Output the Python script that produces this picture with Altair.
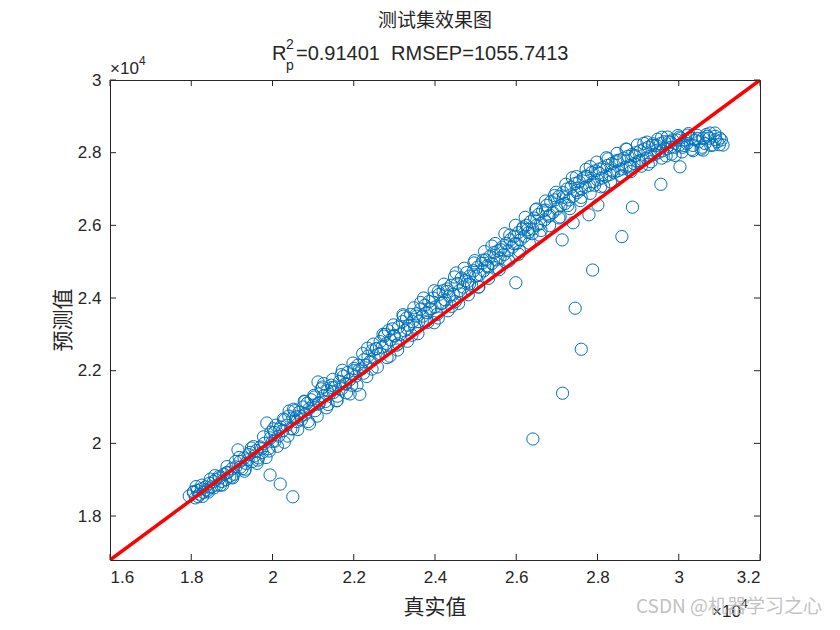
import altair as alt
import pandas as pd

# ---- data (true value, predicted value) ----
# main band, first pass
true_vals = [
    17950, 18050, 18100, 18150, 18200, 18250, 18300, 18350, 18400, 18450, 18500, 18550,
    18600, 18650, 18700, 18750, 18800, 18850, 18900, 18950, 19000, 19050, 19100, 19150,
    19200, 19250, 19300, 19350, 19400, 19450, 19500, 19550, 19600,
    19650, 19700, 19750, 19800, 19860, 19900, 19950, 20000, 20050, 20085, 20150, 20200,
    20250, 20300, 20350, 20400, 20450, 20500, 20550,
    20600, 20650, 20700, 20750, 20800, 20850, 20900, 20950, 21000, 21050, 21120, 21150,
    21200, 21250, 21300, 21350, 21400, 21450, 21500,
    21550, 21600, 21650, 21700, 21750, 21800, 21850, 21900, 21950, 22000, 22050, 22100,
    22150, 22200, 22250, 22300, 22350, 22400, 22450, 22500,
    22550, 22600, 22650, 22700, 22750, 22800, 22850, 22900, 22950, 23000, 23050, 23100,
    23150, 23200, 23250, 23300, 23350, 23400, 23450, 23500,
    23550, 23600, 23650, 23700, 23750, 23800, 23850, 23900, 23950, 24000, 24050, 24100,
    24150, 24200, 24250, 24300, 24350, 24400, 24450, 24500,
    24550, 24600, 24650, 24700, 24780, 24800, 24850, 24900, 24950, 25000, 25050, 25100,
    25150, 25200, 25250, 25300, 25350, 25400, 25450, 25500,
    25550, 25600, 25650, 25700, 25750, 25800, 25850, 25900, 25950, 25990, 26000, 26050,
    26100, 26150, 26200, 26250, 26300, 26350, 26400, 26450, 26500,
    26550, 26600, 26650, 26700, 26750, 26800, 26850, 26900, 26950, 27000, 27050, 27130,
    27100, 27150, 27200, 27250, 27300, 27350, 27400, 27400, 27450, 27500,
    27550, 27600, 27650, 27700, 27790, 27750, 27800, 27850, 27900, 27950, 28010, 28000,
    28050, 28100, 28150, 28200, 28250, 28300, 28350, 28400, 28450, 28500,
    28550, 28600, 28650, 28700, 28750, 28800, 28850, 28900, 28950, 29000, 29050, 29100,
    29150, 29200, 29250, 29300, 29350, 29400, 29450, 29500,
    29550, 29600, 29650, 29700, 29750, 29800, 29850, 29900, 29950, 30000, 30050, 30100,
    30150, 30200, 30300, 30350, 30400, 30500, 30600, 30650, 30700, 30770, 30850, 30950,
    31010, 31090, 30600, 30890,
]
pred_vals = [
    18550, 18650, 18500, 18700, 18600, 18750, 18650, 18800, 18700, 18900, 18800, 18950,
    19000, 18850, 19050, 18950, 19150, 19000, 19200, 19100, 19300, 19150, 19350, 19820,
    19500, 19300, 19600, 19450, 19550, 19750, 19500, 19650, 19800,
    19600, 19900, 19750, 20000, 20560, 19850, 20150, 20050, 20300, 20500, 20200, 20450,
    20350, 20650, 20500, 20750, 20400, 20700, 20900,
    20600, 20850, 20750, 21000, 20800, 21100, 20950, 21200, 21050, 20900, 21690, 21100,
    21500, 21300, 21150, 21450, 21350, 21600, 21400,
    21550, 21300, 21700, 21500, 21850, 21650, 21950, 21750, 21600, 22000, 21850, 22150,
    21350, 22050, 22300, 22150, 22400, 22250, 22550, 22350,
    22600, 22450, 22800, 22650, 22950, 22750, 23100, 22850, 23150, 22950, 22700, 23200,
    23000, 23350, 23100, 23450, 23250, 23550, 23350, 23200,
    23500, 23350, 23700, 23500, 23800, 23600, 23900, 23700, 24000, 23750, 23550, 24100,
    23850, 24200, 23950, 24250, 24050, 24350, 24100, 23900,
    24400, 24200, 24550, 24300, 24700, 24450, 24600, 24350, 24750, 24600, 24850, 24650,
    24950, 24750, 25050, 24850, 25150, 24950, 25250, 25050,
    25300, 25100, 25400, 25200, 25500, 25300, 25600, 25400, 25700, 24420, 25500, 25800,
    25600, 25900, 25700, 26000, 25800, 26100, 25900, 26200, 26000,
    26300, 26050, 26400, 26150, 26550, 26250, 26650, 26350, 26700, 26450, 26800, 25600,
    26550, 26900, 26600, 27000, 26700, 27050, 26800, 26070, 27150, 26900,
    27200, 27000, 27300, 27050, 26290, 27350, 27100, 27450, 27200, 27500, 26560, 27250,
    27550, 27300, 27600, 27350, 27650, 27400, 27700, 27450, 27750, 27500,
    27800, 27550, 27850, 27600, 27900, 27650, 27950, 27700, 28000, 27750, 28050, 27800,
    28100, 27850, 28150, 27900, 28200, 27950, 28200, 28000,
    28250, 28050, 28300, 28100, 28300, 28150, 28350, 28150, 28350, 28200, 28400, 28150,
    28350, 28250, 28400, 28200, 28350, 28300, 28400, 28250, 28450, 28540, 28210, 28300,
    28400, 28210, 28070, 28540,
]

# main band, band edges (wider spread)
edge_true = [
    18120, 18280, 18420, 18580, 18720, 18880, 19020, 19180, 19330, 19480, 19620, 19780,
    19920, 20020, 20120, 20270, 20380, 20520, 20620, 20780, 20880, 21020, 21100, 21230,
    21330, 21480, 21580, 21720, 21820, 21980, 22080, 22220, 22320, 22480, 22580, 22720,
    22820, 22980, 23080, 23220, 23320, 23480, 23580, 23720, 23820, 23980, 24080, 24220,
    24320, 24480, 24580, 24720, 24820, 24980, 25080, 25220, 25320, 25480, 25580, 25720,
    25820, 25980, 26080, 26220, 26320, 26480, 26580, 26720, 26820, 26980, 27080, 27220,
    27320, 27480, 27580, 27720, 27820, 27980, 28080, 28220, 28320, 28480, 28580, 28720,
    28820, 28980, 29080, 29220, 29320, 29480, 29580, 29720, 29820, 29980, 30080, 30220,
    30320, 30450, 30550, 30750, 30900, 31050,
]
edge_pred = [
    18810, 18540, 18660, 19110, 18850, 19360, 19050, 19610, 19290, 19870, 19450, 20180,
    19790, 20400, 19920, 20670, 20200, 20940, 20380, 21160, 20600, 21320, 20750, 21550,
    20980, 21760, 21170, 22010, 21390, 22210, 21600, 22470, 21840, 22730, 22100, 23000,
    22360, 23260, 22570, 23500, 22810, 23730, 23020, 24000, 23330, 24200, 23450, 24380,
    23650, 24580, 23850, 24820, 24090, 25030, 24300, 25280, 24540, 25500, 24780, 25770,
    25020, 26000, 25290, 26220, 25510, 26430, 25730, 26670, 25990, 26910, 26230, 27130,
    26460, 27340, 26680, 27540, 26880, 27740, 27060, 27860, 27200, 27980, 27350, 28090,
    27480, 28210, 27630, 28290, 27750, 28370, 27850, 28430, 27960, 28470, 28020, 28480,
    28090, 28480, 28100, 28400, 28450, 28350,
]

# main band, scattered fill
fill_true = [
    18060, 18170, 18260, 18370, 18470, 18560, 18680, 18770, 18870, 18990,
    19090, 19210, 19310, 19420, 19530, 19640, 19730, 19840, 19960, 20060,
    20170, 20290, 20410, 20500, 20590, 20710, 20800, 20910, 21030, 21140,
    21260, 21370, 21470, 21590, 21690, 21800, 21910, 22010, 22130, 22240,
    22340, 22450, 22560, 22660, 22770, 22890, 22990, 23100, 23210, 23320,
    23430, 23540, 23650, 23760, 23870, 23980, 24080, 24190, 24300, 24410,
    24520, 24630, 24740, 24850, 24960, 25070, 25180, 25290, 25400, 25510,
    25620, 25730, 25840, 25950, 26060, 26170, 26280, 26390, 26500, 26610,
    26720, 26830, 26940, 27050, 27160, 27270, 27380, 27490, 27600, 27710,
    27820, 27930, 28040, 28150, 28260, 28370, 28480, 28590, 28700, 28810,
    28920, 29030, 29140, 29250, 29360, 29470, 29580, 29690, 29800, 29910,
    30020, 30130, 30240, 30350, 30460, 30570, 30680, 30790, 30900, 31000,
]
fill_pred = [
    18670, 18535, 18850, 18725, 19015, 18775, 19085, 18855, 19190, 19070,
    19500, 19345, 19235, 19690, 19910, 19540, 19850, 19610, 20310, 20060,
    20390, 20030, 20890, 20400, 20735, 20645, 21150, 20535, 21275, 21120,
    21645, 21070, 21535, 21180, 21890, 21630, 21360, 22060, 22020, 21930,
    22620, 22045, 22610, 22460, 23000, 22400, 22970, 22740, 23540, 23160,
    22975, 23565, 23875, 23345, 23705, 23320, 24175, 23860, 24180, 23770,
    24690, 24115, 24475, 24385, 24965, 24305, 25040, 24890, 25430, 24840,
    25330, 24990, 25730, 25490, 25205, 25955, 25880, 25770, 26450, 25860,
    26420, 26280, 26820, 26205, 26775, 26545, 27310, 26960, 26770, 27350,
    27615, 27105, 27440, 27075, 27830, 27495, 27780, 27365, 28100, 27605,
    27920, 27780, 28255, 27680, 28245, 28070, 28425, 27910, 28290, 27925,
    28430, 28200, 28525, 28055, 28390, 28150, 28500, 28200, 28360, 28220,
]

# points far from the band
outlier_true = [19940, 20190, 20500, 26410, 27140, 27600, 27450, 27880, 28600, 28860, 29560, 30030]
outlier_pred = [19130, 18880, 18530, 20120, 21380, 22590, 23720, 24770, 25690, 26500, 27130, 27610]

fit_x = [16000, 32000]
fit_y = [16790, 30000]

x_ticks = [16000, 18000, 20000, 22000, 24000, 26000, 28000, 30000, 32000]
y_ticks = [18000, 20000, 22000, 24000, 26000, 28000, 30000]

all_true = true_vals + edge_true + fill_true + outlier_true
all_pred = pred_vals + edge_pred + fill_pred + outlier_pred
n = min(len(all_true), len(all_pred))
df = pd.DataFrame({"true": all_true[:n], "pred": all_pred[:n]})
line_df = pd.DataFrame({"true": fit_x, "pred": fit_y})
xt_df = pd.DataFrame({"v": x_ticks})
yt_df = pd.DataFrame({"v": y_ticks})

W, H = 650, 480
TXT = "#262626"
LATIN = "Liberation Sans"
CJK = "Noto Sans CJK SC"

xscale = alt.Scale(domain=[16000, 32000], nice=False, zero=False)
yscale = alt.Scale(domain=[16790, 30000], nice=False, zero=False)

axis_common = dict(
    tickSize=0, domain=False, grid=False, labelFontSize=17, labelFont=LATIN,
    labelColor=TXT, labelPadding=9, title=None,
    labelExpr="format(datum.value / 10000, '~g')",
)

points = alt.Chart(df).mark_point(
    shape="circle", filled=False, size=150, strokeWidth=1, color="#0072BD", opacity=1
).encode(
    x=alt.X("true:Q", scale=xscale, axis=alt.Axis(values=x_ticks, **axis_common)),
    y=alt.Y("pred:Q", scale=yscale, axis=alt.Axis(values=y_ticks, **axis_common)),
)

fit = alt.Chart(line_df).mark_line(color="#FF0000", strokeWidth=3.5, clip=True).encode(
    x=alt.X("true:Q", scale=xscale), y=alt.Y("pred:Q", scale=yscale)
)

tick_style = dict(color=TXT, strokeWidth=1)
xb = alt.Chart(xt_df).mark_rule(**tick_style).encode(
    x=alt.X("v:Q", scale=xscale), y=alt.value(H), y2=alt.value(H - 6))
xt = alt.Chart(xt_df).mark_rule(**tick_style).encode(
    x=alt.X("v:Q", scale=xscale), y=alt.value(0), y2=alt.value(6))
yl = alt.Chart(yt_df).mark_rule(**tick_style).encode(
    y=alt.Y("v:Q", scale=yscale), x=alt.value(0), x2=alt.value(6))
yr = alt.Chart(yt_df).mark_rule(**tick_style).encode(
    y=alt.Y("v:Q", scale=yscale), x=alt.value(W), x2=alt.value(W - 6))

one = pd.DataFrame({"a": [0]})


def txt(text, x, y, size, font=LATIN, align="left", baseline="alphabetic",
        color=TXT, angle=0, opacity=1.0):
    kw = dict(text=text, fontSize=size, font=font, align=align, baseline=baseline,
              color=color, opacity=opacity)
    if angle:
        kw["angle"] = angle
    return alt.Chart(one).mark_text(**kw).encode(x=alt.value(x), y=alt.value(y))


texts = [
    txt("测试集效果图", 325, -59, 19, font=CJK, align="center", baseline="middle"),
    txt("R", 162, -20, 20),
    txt("2", 176, -31, 14),
    txt("p", 176, -10, 14),
    txt("=0.91401\u00a0\u00a0RMSEP=1055.7413", 186, -20, 20),
    txt("×10", 0, -6, 17),
    txt("4", 29, -15, 12),
    txt("真实值", 325, 528, 21, font=CJK, align="center", baseline="middle"),
    txt("预测值", -46, 240, 21, font=CJK, align="center", baseline="middle", angle=270),
    txt("×10", 602, 537, 17),
    txt("4", 631, 528, 12),
    txt("CSDN @机器学习之心", 526, 527, 19, font=CJK, baseline="middle",
        color="#b8b8b8", opacity=0.85),
]

chart = alt.layer(points, fit, xb, xt, yl, yr, *texts).properties(
    width=W, height=H,
    autosize=alt.AutoSizeParams(type="none"),
    padding={"left": 102, "top": 72, "right": 72, "bottom": 62},
    background="white",
).configure_view(stroke=TXT, strokeWidth=1)

chart.save("out.html", embed_options={"renderer": "svg", "actions": False})
